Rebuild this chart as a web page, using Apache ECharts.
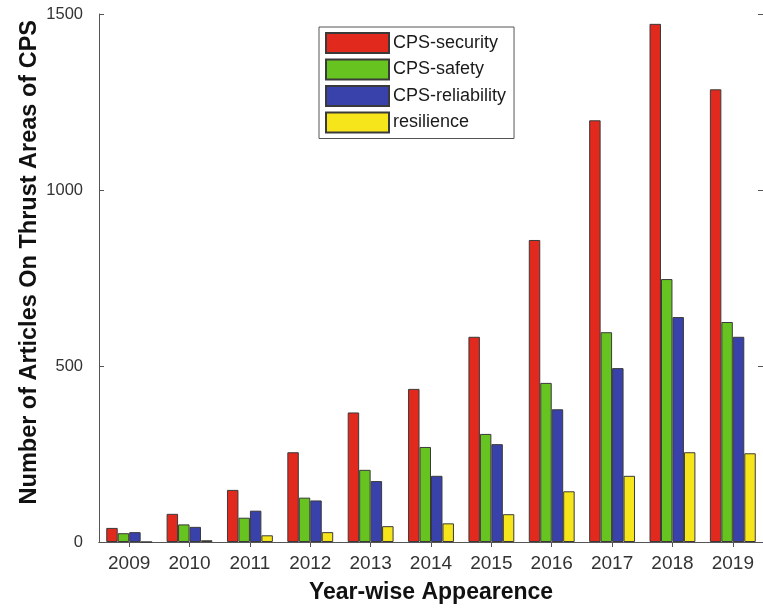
<!DOCTYPE html>
<html>
<head>
<meta charset="utf-8">
<script src="https://cdn.jsdelivr.net/npm/echarts@6/dist/echarts.min.js"></script>
<style>
  html, body { margin: 0; padding: 0; background: #ffffff; }
  #chart { width: 763px; height: 611px; }
</style>
</head>
<body>
<div id="chart"></div>
<script>
// Publication years on the x axis
const years = ['2009', '2010', '2011', '2012', '2013', '2014', '2015', '2016', '2017', '2018', '2019'];

// Article counts per thrust area and year
const cpsSecurity    = [40, 80, 148, 255, 368, 435, 583, 858, 1198, 1472, 1286];
const cpsSafety      = [25, 50, 69, 126, 205, 270, 307, 452, 596, 747, 625];
const cpsReliability = [28, 43, 89, 118, 173, 188, 278, 377, 494, 639, 583];
const resilience     = [0, 5, 19, 28, 45, 53, 79, 144, 188, 255, 252];

// y-axis ticks
const yTicks = [0, 500, 1000, 1500];

const seriesDefs = [
  { name: 'CPS-security',    data: cpsSecurity,    color: '#e1291d' },
  { name: 'CPS-safety',      data: cpsSafety,      color: '#66c320' },
  { name: 'CPS-reliability', data: cpsReliability, color: '#3942aa' },
  { name: 'resilience',      data: resilience,     color: '#f6e51b' }
];

const FONT = '"Liberation Sans", Arial, sans-serif';
const AXIS_COLOR = '#555555';

const chart = echarts.init(document.getElementById('chart'), null, { renderer: 'canvas' });

chart.setOption({
  backgroundColor: '#ffffff',
  animation: false,
  textStyle: { fontFamily: FONT },
  grid: { left: 99, top: 14, width: 666, height: 528, containLabel: false },
  // rotated y-axis title
  graphic: [{
    type: 'text',
    left: 18,
    top: 20,
    rotation: Math.PI / 2,
    style: {
      text: 'Number of Articles On Thrust Areas of CPS',
      font: 'bold 23.5px ' + FONT,
      fill: '#111111'
    }
  }],
  legend: {
    orient: 'vertical',
    left: 319,
    top: 27,
    padding: [5, 8, 5, 6],
    itemWidth: 63,
    itemHeight: 20,
    itemGap: 4.5,
    icon: 'rect',
    backgroundColor: '#ffffff',
    borderColor: '#555555',
    borderWidth: 1,
    textStyle: { fontFamily: FONT, fontSize: 18, color: '#1a1a1a', padding: [0, 0, 0, -1] },
    data: seriesDefs.map(s => s.name)
  },
  xAxis: [
    {
      type: 'category',
      data: years,
      position: 'bottom',
      axisLine: { lineStyle: { color: AXIS_COLOR, width: 1 } },
      axisTick: { show: false },
      axisLabel: { fontFamily: FONT, fontSize: 19, color: '#333333', margin: 12 },
      name: 'Year-wise Appearence',
      nameLocation: 'middle',
      nameGap: 39,
      nameTextStyle: { fontFamily: FONT, fontSize: 23, fontWeight: 'bold', color: '#111111' }
    },
    {
      type: 'category',
      data: years,
      position: 'top',
      axisLine: { lineStyle: { color: AXIS_COLOR, width: 1 } },
      axisTick: { show: true, inside: true, alignWithLabel: true, length: 5, lineStyle: { color: AXIS_COLOR } },
      axisLabel: { show: false }
    }
  ],
  yAxis: [
    {
      type: 'value',
      min: yTicks[0],
      max: yTicks[yTicks.length - 1],
      interval: 500,
      position: 'left',
      axisLine: { show: true, lineStyle: { color: AXIS_COLOR, width: 1 } },
      axisTick: { show: true, inside: true, length: 5, lineStyle: { color: AXIS_COLOR } },
      splitLine: { show: false },
      axisLabel: { fontFamily: FONT, fontSize: 16.5, color: '#333333', margin: 16, formatter: v => String(v) }
    },
    {
      type: 'value',
      min: yTicks[0],
      max: yTicks[yTicks.length - 1],
      interval: 500,
      position: 'right',
      axisLine: { show: true, lineStyle: { color: AXIS_COLOR, width: 1 } },
      axisTick: { show: true, inside: true, length: 5, lineStyle: { color: AXIS_COLOR } },
      splitLine: { show: false },
      axisLabel: { show: false }
    }
  ],
  series: seriesDefs.map(s => ({
    name: s.name,
    type: 'bar',
    xAxisIndex: 0,
    yAxisIndex: 0,
    data: s.data,
    barGap: '0%',
    barCategoryGap: '24%',
    itemStyle: { color: s.color, borderColor: '#3a3a3a', borderWidth: 1 }
  }))
});
</script>
</body>
</html>
